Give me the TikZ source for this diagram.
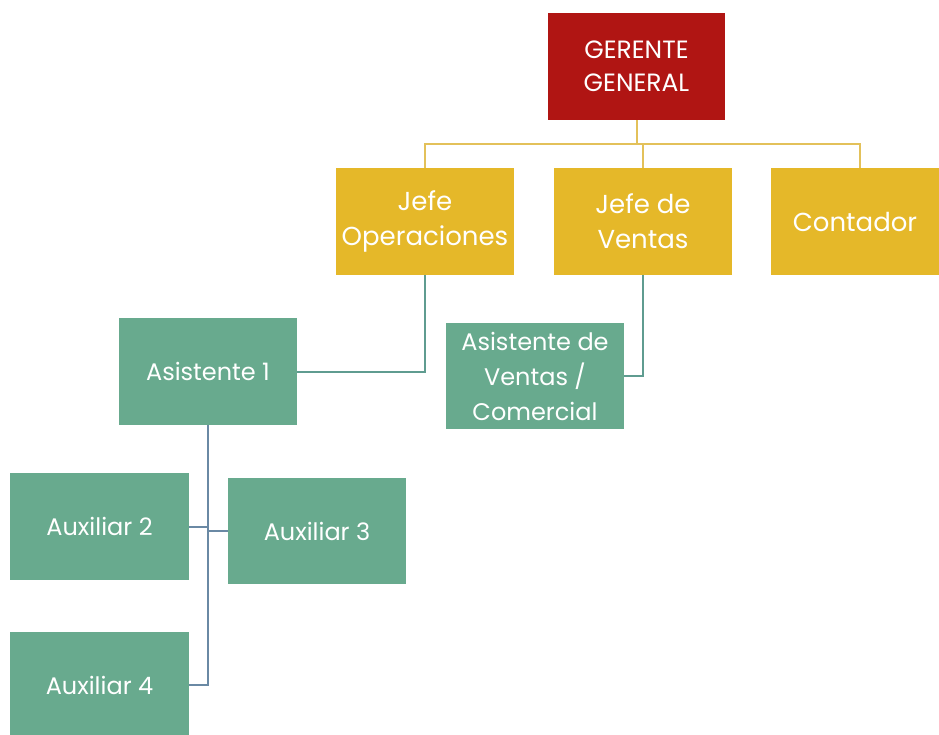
\documentclass[tikz,border=0pt]{standalone}
\usepackage{fontspec}
\setmainfont{Poppins}
\definecolor{redbox}{HTML}{B01513}
\definecolor{goldbox}{HTML}{E5B829}
\definecolor{greenbox}{HTML}{68AA8E}
\definecolor{goldline}{HTML}{E3C15A}
\definecolor{tealline}{HTML}{5F9C90}
\definecolor{blueline}{HTML}{6A89A4}
\begin{document}
\begin{tikzpicture}[x=1pt,y=-1pt,
  box/.style={rectangle, inner sep=0pt, align=center, text=white, minimum height=107pt, minimum width=178pt},
  redstyle/.style={box, fill=redbox, font=\fontsize{25}{33}\selectfont},
  goldstyle/.style={box, fill=goldbox, font=\fontsize{26}{35}\selectfont},
  greenstyle/.style={box, fill=greenbox, font=\fontsize{24}{35}\selectfont},
  gline/.style={draw=goldline, line width=2pt},
  tline/.style={draw=tealline, line width=2pt},
  bline/.style={draw=blueline, line width=2pt}]
\useasboundingbox (0,0) rectangle (939,734);
\node[redstyle, minimum width=177pt] (gg) at (636.5,66.5) {GERENTE\\GENERAL};
\node[goldstyle] (jo) at (425,221.5) {Jefe\\Operaciones};
\node[goldstyle] (jv) at (643,221.5) {Jefe de\\Ventas};
\node[goldstyle, minimum width=168pt] (co) at (855,221.5) {Contador};
\node[greenstyle] (a1) at (208,371.5) {Asistente 1};
\node[greenstyle, minimum height=106pt] (av) at (535,376) {Asistente de\\Ventas /\\Comercial};
\node[greenstyle, minimum width=179pt] (x2) at (99.5,526.5) {Auxiliar 2};
\node[greenstyle, minimum height=106pt] (x3) at (317,531) {Auxiliar 3};
\node[greenstyle, minimum width=179pt, minimum height=106pt] (x4) at (99.5,685) {Auxiliar 4};
\coordinate (bus) at (636.5,144);
\coordinate (cdrop) at (860,168);
\draw[gline] (gg.south) -- (bus);
\draw[gline] (jo.north) |- (bus) -| (cdrop);
\draw[gline] (jv.north) -- (jv.north |- bus);
\draw[tline] (jo.south) |- (a1.east);
\draw[tline] (jv.south) |- (av.east);
\draw[bline] (a1.south) -- (a1.south |- x4.east) -- (x4.east);
\draw[bline] (x2.east) -- (x2.east -| a1.south);
\draw[bline] (x3.west) -- (x3.west -| a1.south);
\end{tikzpicture}
\end{document}
